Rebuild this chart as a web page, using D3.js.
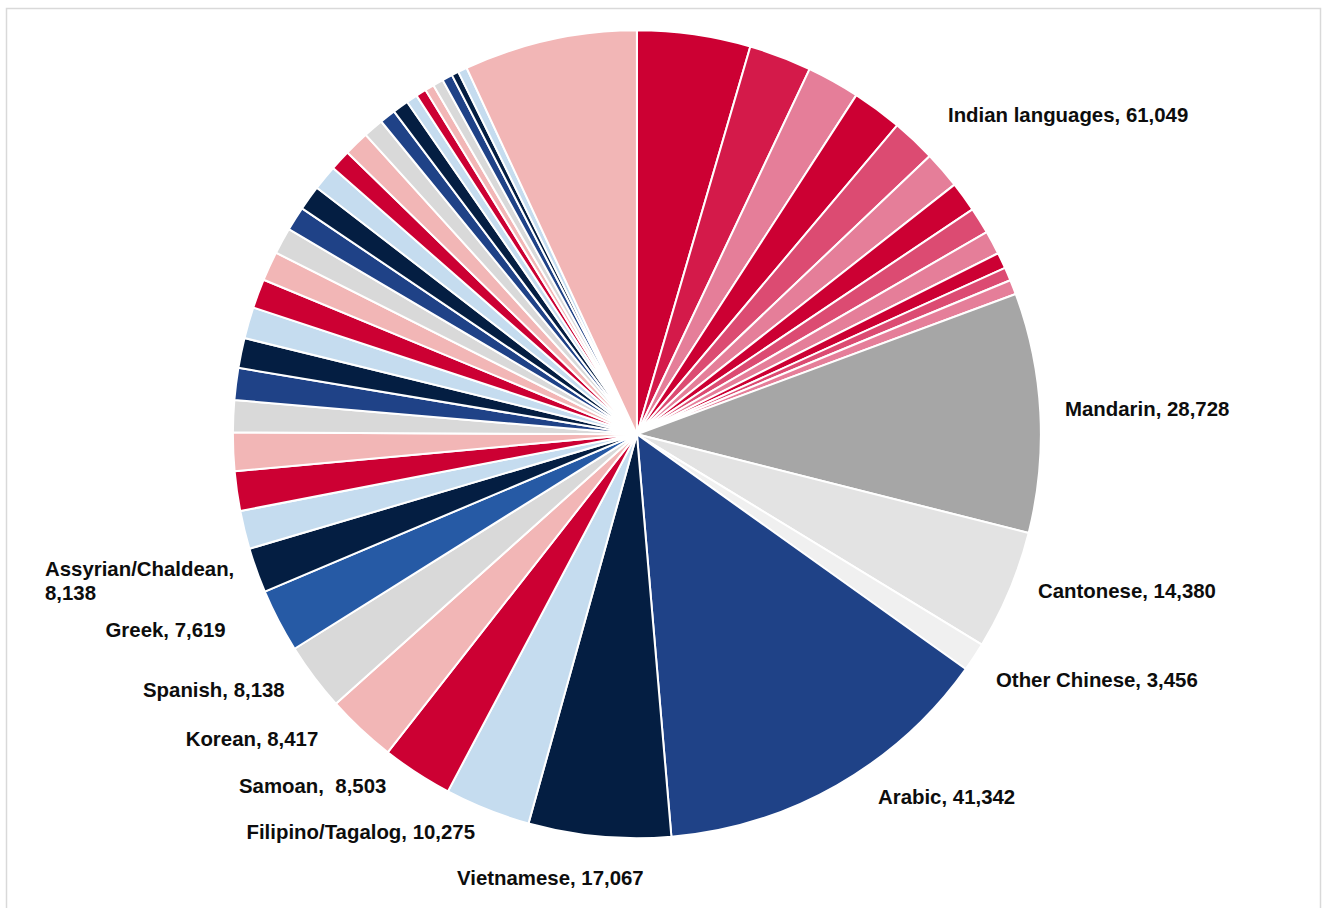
<!DOCTYPE html>
<html>
<head>
<meta charset="utf-8">
<script src="https://cdn.jsdelivr.net/npm/d3@7"></script>
<style>
  html, body { margin: 0; padding: 0; background: #ffffff; }
  svg { display: block; }
  .lbl { font-family: "Liberation Sans", Arial, sans-serif; font-weight: bold; font-size: 20.4px; fill: #0d0d0d; white-space: pre; }
</style>
</head>
<body>
<svg id="chart" width="1324" height="908"></svg>
<script>
// ---------------- DATA ----------------
// Slices, clockwise from 12 o'clock
const indianSubNames = ["Indian language 1","Indian language 2","Indian language 3","Indian language 4",
  "Indian language 5","Indian language 6","Indian language 7","Indian language 8",
  "Indian language 9","Indian language 10","Indian language 11","Indian language 12"];
const indianSubValues = [13600, 7500, 6340, 6000, 5300, 4480, 3620, 3170, 2840, 1920, 1590, 1750];

const mainNames = ["Mandarin","Cantonese","Other Chinese","Arabic","Vietnamese","Filipino/Tagalog",
  "Samoan","Korean","Spanish","Greek","Assyrian/Chaldean"];
const mainValues = [28728, 14380, 3456, 41342, 17067, 10275, 8503, 8417, 8138, 7619, 5400];

const otherNames = ["Other 1","Other 2","Other 3","Other 4","Other 5","Other 6","Other 7","Other 8",
  "Other 9","Other 10","Other 11","Other 12","Other 13","Other 14","Other 15","Other 16","Other 17",
  "Other 18","Other 19","Other 20","Other 21","Other 22","Other 23","Other 24","Other 25","Other languages"];
const otherValues = [4590, 4760, 4590, 3840, 3840, 3590, 3760, 3510, 3510, 3170, 2920, 3010, 3010,
  2500, 3010, 2420, 1920, 1920, 1340, 1250, 1090, 1250, 1250, 840, 1090, 20790];

// Data label texts (as printed on the chart)
const labelNames = ["Indian language 1","Mandarin","Cantonese","Other Chinese","Arabic","Vietnamese",
  "Filipino/Tagalog","Samoan","Korean","Spanish","Greek","Assyrian/Chaldean"];
const labelTexts = [["Indian languages, 61,049"],["Mandarin, 28,728"],["Cantonese, 14,380"],
  ["Other Chinese, 3,456"],["Arabic, 41,342"],["Vietnamese, 17,067"],["Filipino/Tagalog, 10,275"],
  ["Samoan,  8,503"],["Korean, 8,417"],["Spanish, 8,138"],["Greek, 7,619"],["Assyrian/Chaldean,","8,138"]];

// ---------------- STYLE / LAYOUT ----------------
const C = {
  red: "#cc0033", crimson: "#d41a4a", pink: "#e57e99", dpink: "#dc4b72",
  mand: "#a6a6a6", cant: "#e3e3e3", othc: "#f0f0f0",
  blue: "#1f4287", navy: "#041e42", lblue: "#c5dcef", lpink: "#f2b6b6", gray: "#d9d9d9", mblue: "#265aa5"
};
const indianColors = [C.red, C.crimson, C.pink, C.red, C.dpink, C.pink, C.red, C.dpink, C.pink, C.red, C.dpink, C.pink];
const mainColors = [C.mand, C.cant, C.othc, C.blue, C.navy, C.lblue, C.red, C.lpink, C.gray, C.mblue, C.navy];
const cycle = [C.lblue, C.red, C.lpink, C.gray, C.blue, C.navy];
const otherColors = otherValues.map((v, i) => i === otherValues.length - 1 ? C.lpink : cycle[i % cycle.length]);

const names = indianSubNames.concat(mainNames, otherNames);
const values = indianSubValues.concat(mainValues, otherValues);
const colors = indianColors.concat(mainColors, otherColors);
const slices = names.map((n, i) => ({ name: n, value: values[i], color: colors[i] }));

const cx = 636.9, cy = 434.3, R = 404;

// label anchor positions (text start x, first baseline y)
const labelPos = {
  "Indian language 1": [948, 121.5],
  "Mandarin": [1065, 416],
  "Cantonese": [1038, 598],
  "Other Chinese": [996, 687],
  "Arabic": [878, 804],
  "Vietnamese": [457, 885],
  "Filipino/Tagalog": [246.5, 838.5],
  "Samoan": [239, 792.5],
  "Korean": [185.7, 746],
  "Spanish": [143, 696.5],
  "Greek": [105.5, 637],
  "Assyrian/Chaldean": [45, 576]
};

// ---------------- DRAW ----------------
const svg = d3.select("#chart");
svg.append("rect").attr("x", 0).attr("y", 0).attr("width", 1324).attr("height", 908).attr("fill", "#fff");
svg.append("rect").attr("x", 6.5).attr("y", 8.5).attr("width", 1314).attr("height", 930)
  .attr("fill", "none").attr("stroke", "#d9d9d9").attr("stroke-width", 1.5);

const pie = d3.pie().value(d => d.value).sort(null).startAngle(0).endAngle(2 * Math.PI);
const arc = d3.arc().innerRadius(0).outerRadius(R);

const g = svg.append("g").attr("transform", `translate(${cx},${cy})`);
g.selectAll("path").data(pie(slices)).join("path")
  .attr("d", arc)
  .attr("fill", d => d.data.color)
  .attr("stroke", "#ffffff")
  .attr("stroke-width", 2)
  .attr("stroke-linejoin", "round");

labelNames.forEach((n, i) => {
  const p = labelPos[n];
  const t = svg.append("text").attr("class", "lbl").attr("x", p[0]).attr("y", p[1]);
  labelTexts[i].forEach((line, j) => {
    t.append("tspan").attr("x", p[0]).attr("dy", j === 0 ? 0 : 24).text(line);
  });
});
</script>
</body>
</html>
